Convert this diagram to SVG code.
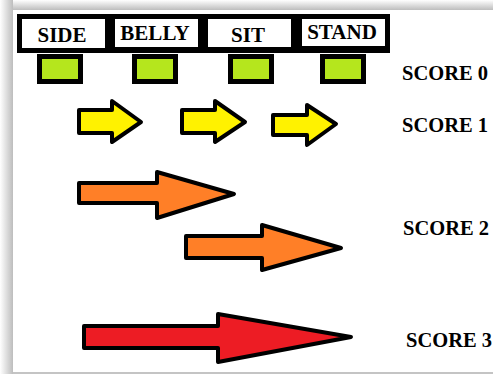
<svg xmlns="http://www.w3.org/2000/svg" width="493" height="374" viewBox="0 0 493 374">
<defs>
<linearGradient id="shTop" x1="0" y1="0" x2="0" y2="1">
<stop offset="0" stop-color="#ffffff"/>
<stop offset="1" stop-color="#bdbdbd"/>
</linearGradient>
<linearGradient id="shLeft" x1="0" y1="0" x2="1" y2="0">
<stop offset="0" stop-color="#ffffff"/>
<stop offset="1" stop-color="#bdbdbd"/>
</linearGradient>
<style>
.lbl{font-family:"Liberation Serif","Times New Roman",serif;font-weight:bold;font-size:20.5px;fill:#000}
.hdr{text-anchor:middle;font-size:21px}
.box{fill:#ffffff}
.grn{fill:#b5e61d;stroke:#000;stroke-width:5}
.arr{stroke:#000;stroke-width:4;stroke-linejoin:round}
.y{fill:#fff200}
.o{fill:#ff7f27}
.r{fill:#ed1c24}
</style>
</defs>
<rect x="0" y="0" width="493" height="374" fill="#ffffff"/>
<rect x="0" y="0" width="493" height="10" fill="url(#shTop)"/>
<rect x="0" y="0" width="13" height="374" fill="url(#shLeft)"/>
<rect x="13" y="10" width="480" height="362" fill="#ffffff"/>
<rect x="13" y="372" width="480" height="2" fill="#c4c4c4"/>

<g id="header">
<rect x="17" y="14" width="373" height="39" fill="#000"/>
</g>
<g id="side">
<rect class="box" x="22" y="19" width="83" height="29"/>
<text class="lbl hdr" x="62" y="42">SIDE</text>
<rect class="grn" x="39.5" y="56.5" width="41" height="25"/>
</g>
<g id="belly">
<rect class="box" x="115" y="19" width="83" height="28"/>
<text class="lbl hdr" x="155" y="40">BELLY</text>
<rect class="grn" x="134.5" y="56.5" width="41" height="25"/>
</g>
<g id="sit">
<rect class="box" x="208" y="19" width="83" height="28"/>
<text class="lbl hdr" x="248" y="42">SIT</text>
<rect class="grn" x="230.5" y="56.5" width="41" height="25"/>
</g>
<g id="stand">
<rect class="box" x="302" y="19" width="83" height="27"/>
<text class="lbl hdr" x="342" y="39">STAND</text>
<rect class="grn" x="322.5" y="56.5" width="41" height="25"/>
</g>

<g id="connectors">
<polygon class="arr y" points="79,110 112,110 112,101 141,122 112,142 112,133 79,133"/>
<polygon class="arr y" points="182,110 215,110 215,101 245,122 215,142 215,133 182,133"/>
<polygon class="arr y" points="273,115 307,115 307,105 336,124 307,145 307,135 273,135"/>
<polygon class="arr o" points="79,183 157,183 157,172 234,194 157,218 157,203 79,203"/>
<polygon class="arr o" points="186,236 262,236 262,225 341,248 262,270 262,258 186,258"/>
<polygon class="arr r" points="84,326 218,326 218,314 351,337 218,362 218,348 84,348"/>
</g>

<g id="scores">
<text class="lbl" x="402" y="80">SCORE 0</text>
<text class="lbl" x="402" y="132">SCORE 1</text>
<text class="lbl" x="403" y="235">SCORE 2</text>
<text class="lbl" x="406" y="347">SCORE 3</text>
</g>
</svg>
